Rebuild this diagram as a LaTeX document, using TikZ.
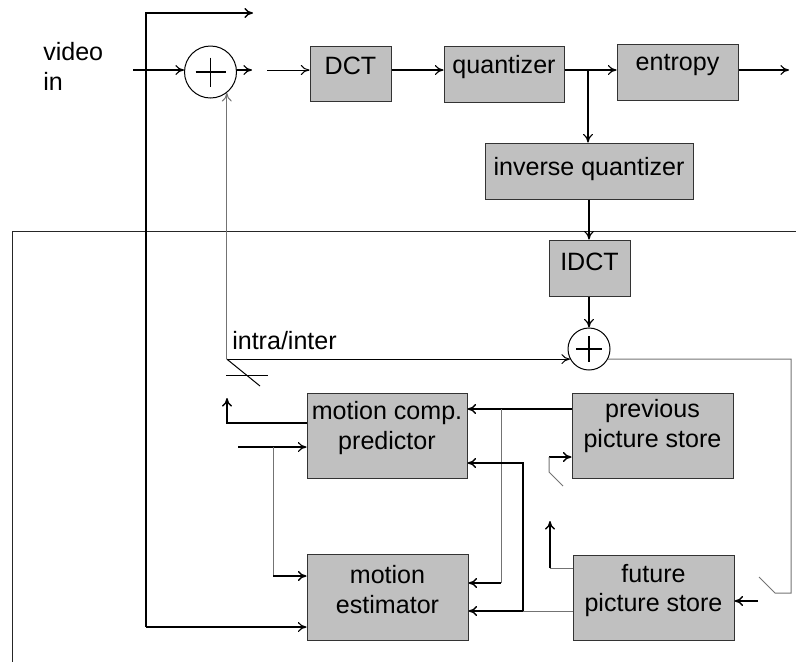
\documentclass[tikz,border=0pt]{standalone}
\usepackage{fontspec}
\setmainfont{Liberation Sans}
\usetikzlibrary{arrows.meta,calc}
\definecolor{linegray}{RGB}{115,115,115}
\definecolor{boxgray}{RGB}{192,192,192}
% invisible strut fixing the top of a label's first line
\newcommand{\tp}{\rule{0pt}{14pt}}
\begin{document}
\begin{tikzpicture}[x=0.75pt,y=-0.75pt,
  font=\fontsize{18.8}{22}\selectfont,
  box/.style={draw=black!80, line width=0.75pt, fill=boxgray, inner sep=0pt},
  lbl/.style={anchor=north, inner sep=0pt, align=center},
  sumnode/.style={circle, draw, line width=0.75pt, inner sep=0pt},
  plus/.style={line width=1pt},
  arr/.style={-{To[length=6.5pt,width=7.5pt]}},
  thk/.style={line width=1pt},
  med/.style={line width=0.9pt},
  thn/.style={line width=0.75pt},
  gry/.style={line width=0.75pt, draw=linegray},
]
\path[use as bounding box] (0,0) rectangle (796,662);

% frame around the reconstruction loop
\draw[thn, black!85] (796,231) -- (12,231) -- (12,662);

% ---- blocks ----
\node[box, minimum width=60.75pt, minimum height=41.25pt] (dct) at (350.5,73.5) {};
\node[box, minimum width=90pt, minimum height=42pt] (quant) at (504,74) {};
\node[box, minimum width=90.75pt, minimum height=42pt] (entropy) at (677.5,72) {};
\node[box, minimum width=156pt, minimum height=42pt] (invq) at (589,171) {};
\node[box, minimum width=60.75pt, minimum height=42pt] (idct) at (589.5,268) {};
\node[box, minimum width=120pt, minimum height=63.75pt] (pred) at (387,435.5) {};
\node[box, minimum width=120.75pt, minimum height=64.5pt] (est) at (387.5,597) {};
\node[box, minimum width=120.75pt, minimum height=63.75pt] (prev) at (652.5,435.5) {};
\node[box, minimum width=120.75pt, minimum height=63.75pt] (fut) at (653.5,597.5) {};

\node[lbl] (dct-l) at ($(dct.north)+(0,10.3)$) {\tp DCT};
\node[lbl] (quant-l) at ($(quant.north)+(0,9)$) {\tp quantizer};
\node[lbl] (entropy-l) at ($(entropy.north)+(0,8)$) {\tp entropy};
\node[lbl] (invq-l) at ($(invq.north)+(0,13.7)$) {\tp inverse quantizer};
\node[lbl] (idct-l) at ($(idct.north)+(0,12.3)$) {\tp IDCT};
\node[lbl] (pred-l) at ($(pred.north)+(0,8.3)$) {\tp motion comp.\\predictor};
\node[lbl] (est-l) at ($(est.north)+(0,11.3)$) {\tp motion\\estimator};
\node[lbl] (prev-l) at ($(prev.north)+(0,6.3)$) {\tp previous\\picture store};
\node[lbl] (fut-l) at ($(fut.north)+(0,9)$) {\tp future\\picture store};

% ---- summing junctions ----
\node[sumnode, minimum size=39pt] (sum1) at (210.5,72) {};
\draw[plus] ($(sum1)+(-15,0)$) -- ($(sum1)+(15,0)$) ($(sum1)+(0,-14.5)$) -- ($(sum1)+(0,14.5)$);
\node[sumnode, minimum size=31.5pt] (sum2) at (589,349) {};
\draw[plus] ($(sum2)+(-13,0)$) -- ($(sum2)+(13,0)$) ($(sum2)+(0,-13)$) -- ($(sum2)+(0,13)$);

% ---- texts ----
\node[anchor=north west, inner sep=0pt, align=left] (vid) at (43,42) {\tp video\\in};
\node[anchor=base west, inner sep=0pt] (mode) at (232,349) {intra/inter};

% ---- forward path ----
\coordinate (row) at (0,70);
\coordinate (vin) at (133,70);
\coordinate (s1o) at (252,70);
\coordinate (dcti) at (267,70);
\coordinate (qb) at (588,70);
\coordinate (eo) at (789,70);
\draw[med,arr] (vin) -- (vin -| sum1.west);
\draw[med,arr] (vin -| sum1.east) -- (s1o);
\draw[thn,arr] (dcti) -- (dcti -| dct.west);
\draw[med,arr] (dct.east |- row) -- (quant.west |- row);
\draw[med] (quant.east |- row) -- (qb);
\draw[med,arr] (qb) -- (entropy.west |- row);
\draw[med,arr] (entropy.east |- row) -- (eo);
\draw[med,arr] (qb) -- (qb |- invq.north);
\draw[med,arr] (invq.south) -- (idct.north -| invq.south);
\draw[med,arr] (idct.south -| sum2) -- (sum2.north);

% ---- input tap ----
\coordinate (tapT) at (146,13);
\coordinate (tapO) at (253,13);
\coordinate (tapB) at (146,627);
\draw[thk,arr] (tapB) -- (tapT) -- (tapO);
\draw[med,arr] (tapB) -- (tapB -| est.west);

% ---- prediction feedback and intra/inter switch ----
\coordinate (sw) at (sum1.-52 |- sum2.208);
\draw[gry,arr] (sw) -- (sum1.-52);
\draw[thn,arr] (sw) -- (sum2.208);
\coordinate (swA) at (260,386);
\coordinate (swL) at (226,375);
\coordinate (swR) at (268,375);
\draw[thn] (sw) -- (swA);
\draw[thn] (swL) -- (swR);

% ---- motion compensated predictor ----
\coordinate (pc) at (227,423);
\coordinate (pu) at (227,398);
\draw[thk,arr] (pred.west |- pc) -- (pc) -- (pu);
\coordinate (pin) at (238,447);
\coordinate (pb) at (273,447);
\coordinate (pbd) at (273,576);
\draw[med,arr] (pin) -- (pin -| pred.west);
\draw[gry] (pb) -- (pbd);
\draw[thk,arr] (pbd) -- (pbd -| est.west);

% ---- picture stores to predictor / estimator ----
\coordinate (pv) at (501,409);
\coordinate (pvd) at (501,583);
\draw[thk,arr] (prev.west |- pv) -- (pred.east |- pv);
\draw[gry] (pv) -- (pvd);
\draw[thk,arr] (pvd) -- (est.east |- pvd);
\coordinate (fv) at (523,611);
\coordinate (fvu) at (523,463);
\draw[gry] (fut.west |- fv) -- (fv);
\draw[thk,arr] (fv) -- (est.east |- fv);
\draw[thk,arr] (fv) -- (fvu) -- (pred.east |- fvu);

% ---- store update switches ----
\coordinate (ps) at (549,457);
\coordinate (psd) at (549,472);
\coordinate (psa) at (563,486);
\draw[thk,arr] (ps) -- (prev.west |- ps);
\draw[gry] (ps) -- (psd) -- (psa);
\coordinate (fs) at (550,568);
\coordinate (fsu) at (550,521);
\draw[gry] (fut.west |- fs) -- (fs);
\draw[thk,arr] (fs) -- (fsu);

% ---- reconstructed picture loop ----
\coordinate (rr) at (791,359);
\coordinate (rd) at (791,593);
\coordinate (rl) at (775,593);
\coordinate (ra) at (759,577);
\draw[gry] (sum2.-28) -- (sum2.-28 -| rr) -- (rd) -- (rl) -- (ra);
\coordinate (fi) at (758,601);
\draw[thk,arr] (fi) -- (fut.east |- fi);
\end{tikzpicture}
\end{document}
